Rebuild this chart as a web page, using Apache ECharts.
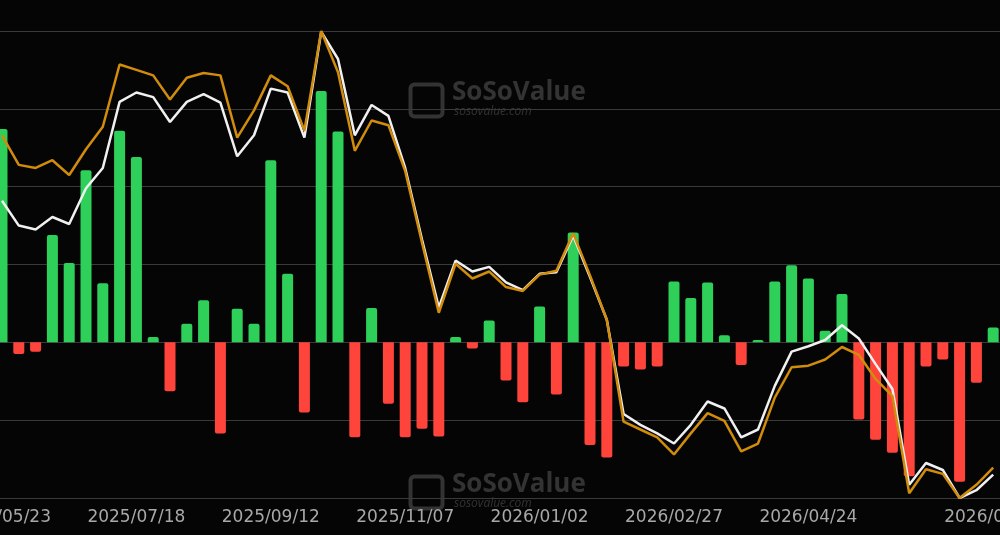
<!DOCTYPE html>
<html><head><meta charset="utf-8">
<script src="https://cdn.jsdelivr.net/npm/echarts@6/dist/echarts.min.js"></script>
<style>html,body{margin:0;background:#050505}#c{width:1000px;height:535px}</style>
</head><body><div id="c"></div>
<script>
const startDate = new Date(Date.UTC(2025,4,23));
const categories = [];
for (let i=0;i<60;i++){const d=new Date(startDate.getTime()+i*7*86400000);categories.push(d.getUTCFullYear()+'/'+String(d.getUTCMonth()+1).padStart(2,'0')+'/'+String(d.getUTCDate()).padStart(2,'0'));}
const flows = [2.74,-0.15,-0.12,1.38,1.02,2.21,0.76,2.72,2.38,0.07,-0.63,0.24,0.54,-1.17,0.43,0.24,2.34,0.88,-0.90,3.23,2.71,-1.22,0.44,-0.79,-1.22,-1.11,-1.21,0.07,-0.08,0.28,
-0.49,-0.77,0.46,-0.67,1.41,-1.32,-1.48,-0.31,-0.35,-0.31,0.78,0.57,0.77,0.09,-0.29,0.03,0.78,0.99,0.82,0.15,0.62,-0.99,-1.25,-1.42,-1.72,-0.31,-0.22,-1.79,-0.52,0.19];
const whiteLine = [1.82,1.50,1.45,1.61,1.52,1.98,2.24,3.09,3.21,3.15,2.83,3.09,3.19,3.08,2.39,2.66,3.26,3.21,2.63,3.99,3.64,2.66,3.05,2.91,2.24,1.32,0.45,1.05,0.91,0.97,
0.77,0.67,0.88,0.90,1.37,0.84,0.29,-0.92,-1.06,-1.17,-1.30,-1.06,-0.76,-0.85,-1.22,-1.12,-0.56,-0.12,-0.05,0.03,0.22,0.05,-0.28,-0.60,-1.83,-1.55,-1.64,-2.0,-1.90,-1.70];
const orangeLine = [2.66,2.28,2.24,2.34,2.15,2.48,2.77,3.57,3.50,3.43,3.12,3.40,3.46,3.43,2.63,2.98,3.43,3.29,2.72,4.0,3.47,2.46,2.85,2.79,2.20,1.28,0.38,1.01,0.82,0.91,
0.71,0.66,0.87,0.92,1.40,0.86,0.29,-1.02,-1.12,-1.22,-1.44,-1.17,-0.91,-1.01,-1.40,-1.30,-0.71,-0.32,-0.30,-0.22,-0.06,-0.16,-0.47,-0.69,-1.94,-1.63,-1.69,-2.0,-1.83,-1.61];
const chart = echarts.init(document.getElementById('c'));
const wm = (y)=>[
 {type:'text',left:452,top:y,style:{text:'SoSoValue',fill:'rgba(90,90,90,0.55)',font:'bold 26px "Open Sans"'}},
 {type:'text',left:454,top:y+26,style:{text:'sosovalue.com',fill:'rgba(90,90,90,0.55)',font:'italic 12px "Open Sans"'}},
 {type:'rect',left:408,top:y+2,shape:{width:32,height:32,r:4},style:{fill:'none',stroke:'rgba(90,90,90,0.55)',lineWidth:4}}
];
chart.setOption({
 backgroundColor:'#050505',
 animation:false,
 graphic:[...wm(80),...wm(472)],
 grid:{left:-6.4,right:-1.6,top:31,bottom:37,containLabel:false,outerBoundsMode:'none'},
 xAxis:{type:'category',data:categories,boundaryGap:true,
  axisLine:{show:false},axisTick:{show:false},
  axisLabel:{color:'#a8a8a8',fontSize:17,margin:11,fontFamily:'"DejaVu Sans"',
   interval:(i)=>i%8===0&&i<56||i===59}},
 yAxis:{type:'value',min:-2,max:4,interval:1,axisLabel:{show:false},
  splitLine:{lineStyle:{color:'#3a3a3a',width:1}},axisLine:{show:false}},
 series:[
  {type:'bar',data:flows.map(v=>({value:v,itemStyle:{color:v>=0?'#2fd05a':'#ff443c',borderRadius:v>=0?[2,2,0,0]:[0,0,2,2]}})),barWidth:11},
  {type:'line',data:whiteLine,symbol:'none',lineStyle:{color:'#f0f0f0',width:2.5},z:3},
  {type:'line',data:orangeLine,symbol:'none',lineStyle:{color:'#d08c0a',width:2.5},z:4}
 ]
});
</script></body></html>
